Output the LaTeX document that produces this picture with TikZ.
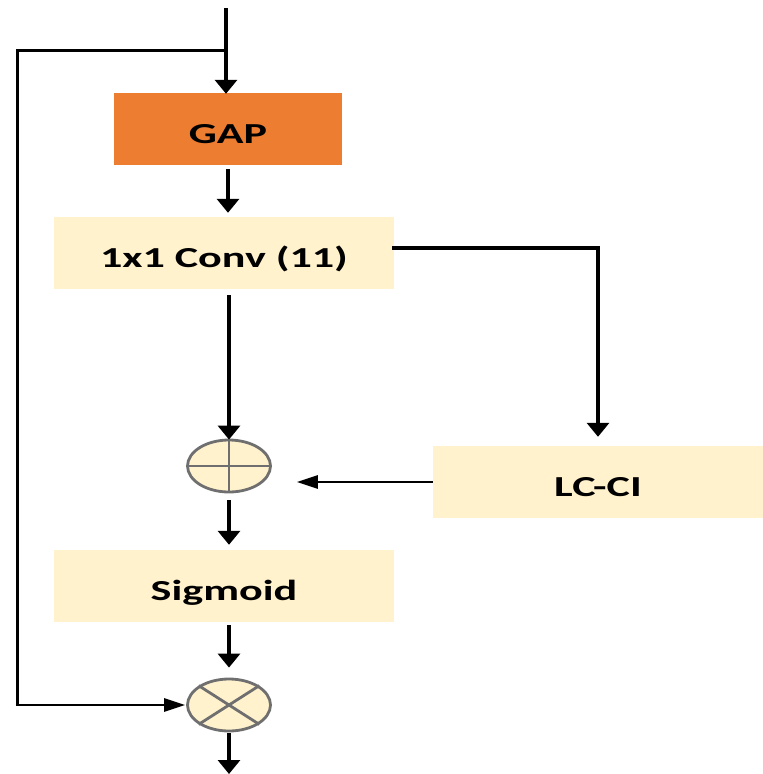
\documentclass[tikz,border=0pt]{standalone}
\usepackage{fontspec}
\setmainfont[FakeStretch=1.52]{Carlito}
\usetikzlibrary{arrows.meta,shapes.geometric}
\definecolor{gapor}{HTML}{ED7D31}
\definecolor{boxy}{HTML}{FFF2CC}
\definecolor{ringg}{HTML}{6F6F6F}
\begin{document}
\begin{tikzpicture}[x=1pt,y=-1pt,
  blk/.style={rectangle, fill=boxy, draw=none, inner sep=0pt, text height=28pt, text depth=0pt, font=\bfseries\fontsize{29}{32}\selectfont},
  op/.style={ellipse, fill=boxy, draw=ringg, line width=2.8pt, minimum width=83pt, minimum height=52pt, inner sep=0pt},
  varr/.style={line width=3.2pt, -{Triangle[width=22pt,length=14pt]}},
  harr/.style={line width=2.8pt, -{Triangle[width=13pt,length=21pt]}},
  wire/.style={line width=3pt}
]
\useasboundingbox (0,0) rectangle (763,774);
\node[blk, fill=gapor, minimum width=228pt, minimum height=72pt] (gap) at (228,129) {GAP};
\node[blk, minimum width=340pt, minimum height=72pt] (conv) at (224,253) {1x1 Conv (11)};
\node[op] (add) at (229,466) {};
\draw[ringg, line width=2.8pt] (add.north) -- (add.south) (add.west) -- (add.east);
\node[blk, minimum width=330pt, minimum height=72pt] (lcci) at (598,482) {LC-CI};
\node[blk, minimum width=340pt, minimum height=72pt] (sig) at (224,586) {Sigmoid};
\node[op] (mul) at (229,705) {};
\draw[ringg, line width=2.8pt] (mul.north west) -- (mul.south east) (mul.north east) -- (mul.south west);
\coordinate (in) at (226,8);
\coordinate (br) at (226,50);
\coordinate (lft) at (17,50);
\coordinate (out) at (229,774);
\draw[varr] (in) -- ([yshift=-1pt]in |- gap.north);
\draw[wire] (br) -- (lft) -- (lft |- mul.west);
\draw[harr] ([xshift=-1.5pt]lft |- mul.west) -- ([xshift=-1pt]mul.west);
\draw[varr, shorten <=4pt, shorten >=4pt] (gap.south) -- (gap.south |- conv.north);
\draw[varr, shorten <=6pt] (conv.south -| add.north) -- ([yshift=-1pt]add.north);
\draw[varr, shorten >=9pt] ([xshift=-2pt,yshift=5pt]conv.east) -| (lcci.north);
\draw[harr, shorten >=25pt] (lcci.west) -- (lcci.west -| add.east);
\draw[varr, shorten <=7pt, shorten >=5pt] (add.south) -- (sig.north -| add.south);
\draw[varr, shorten <=3pt, shorten >=10pt] (sig.south -| mul.north) -- (mul.north);
\draw[varr, shorten <=1pt] (mul.south) -- (out);
\end{tikzpicture}
\end{document}
